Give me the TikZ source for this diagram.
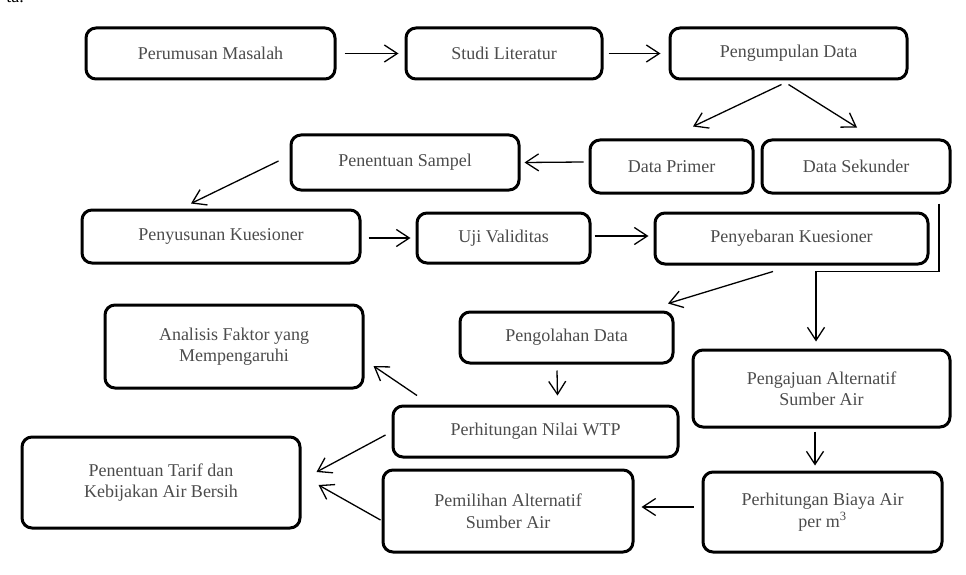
\documentclass[tikz,border=0pt]{standalone}
\usepackage{fontspec}
\setmainfont{Liberation Serif}
\usetikzlibrary{arrows.meta,calc}
\begin{document}
\begin{tikzpicture}[x=1pt,y=-1pt,
 box/.style={draw=black, line width=3pt, rounded corners=10pt, align=center, text=black!70, font=\fontsize{18}{21.5}\selectfont, inner sep=2pt},
 arr/.style={line width=1.3pt, -{Straight Barb[length=13pt,width=17pt,line width=1.3pt]}},
 frag/.style={font=\fontsize{18}{21.5}\selectfont, inner sep=0pt}]
\useasboundingbox (0,0) rectangle (966,575);
\fill[white] (0,0) rectangle (966,575);
\node[frag, anchor=base east] (fr) at (24,2.5) {ta.};
% nodes
\node[box, minimum width=249pt, minimum height=51pt] (pm) at (210.5,53.5) {Perumusan Masalah};
\node[box, minimum width=196pt, minimum height=51pt] (sl) at (504,53.5) {Studi Literatur};
\node[box, minimum width=237pt, minimum height=51pt] (pd) at (788.5,53.5) {Pengumpulan Data};
\node[box, minimum width=228pt, minimum height=55pt] (ps) at (405,162.5) {Penentuan Sampel};
\node[box, minimum width=163pt, minimum height=53pt] (dp) at (671.5,166.5) {Data Primer};
\node[box, minimum width=188pt, minimum height=53pt] (ds) at (856,166.5) {Data Sekunder};
\node[box, minimum width=278pt, minimum height=53pt] (pk) at (221,236.5) {Penyusunan Kuesioner};
\node[box, minimum width=173pt, minimum height=50pt] (uv) at (503.5,238) {Uji Validitas};
\node[box, minimum width=273pt, minimum height=51pt] (pb) at (791.5,238.5) {Penyebaran Kuesioner};
\node[box, minimum width=213pt, minimum height=51pt] (po) at (566.5,337.5) {Pengolahan Data};
\node[box, minimum width=258pt, minimum height=83pt] (af) at (234,346.5) {Analisis Faktor yang\\Mempengaruhi};
\node[box, minimum width=257pt, minimum height=77pt] (pa) at (821.5,388.5) {Pengajuan Alternatif\\Sumber Air};
\node[box, minimum width=285pt, minimum height=51pt] (wtp) at (535.5,431.5) {Perhitungan Nilai WTP};
\node[box, minimum width=278pt, minimum height=91pt] (tr) at (161,482.5) {Penentuan Tarif dan\\Kebijakan Air Bersih};
\node[box, minimum width=250pt, minimum height=82pt] (pl) at (508,511) {Pemilihan Alternatif\\Sumber Air};
\node[box, minimum width=239pt, minimum height=80pt] (bb) at (822.5,512) {Perhitungan Biaya Air\\per m\textsuperscript{3}};
% connectors
\draw[arr] ($(pm.east)+(8,0)$) -- ($(sl.west)+(-6,0)$);
\draw[arr] ($(sl.east)+(5,0)$) -- ($(pd.west)+(-8,0)$);
\draw[arr] ($(pd.south)+(-7,4)$) -- ($(dp.north)+(21.5,-12)$);
\draw[arr] ($(pd.south)+(0,4)$) -- ($(ds.north)+(1,-11)$);
\draw[arr] ($(dp.west)+(-5,-4.5)$) -- ($(ps.east)+(4,0)$);
\draw[arr] ($(ps.west)+(-11,-1.5)$) -- ($(pk.north)+(-30,-5)$);
\draw[arr] ($(pk.east)+(7,1.5)$) -- ($(uv.west)+(-5,0)$);
\draw[arr] ($(uv.east)+(3,-2)$) -- ($(pb.west)+(-5,-2.5)$);
\draw[arr] ($(ds.south)+(83,9)$) |- ($(pa.north)+(-5.5,-77)$) -- ($(pa.north)+(-5.5,-7)$);
\draw[arr] ($(pb.south)+(-18.5,6)$) -- ($(po.north)+(101.5,-7)$);
\draw[arr] ($(po.south)+(-9.5,6)$) -- ($(wtp.north)+(22,-9)$);
\draw[arr] ($(wtp.north)+(-118.5,-9)$) -- ($(af.east)+(9,19.5)$);
\draw[arr] ($(wtp.west)+(-6,3.5)$) -- ($(tr.east)+(15,-10.5)$);
\draw[arr] ($(pl.west)+(-1,9)$) -- ($(tr.east)+(17,2.5)$);
\draw[arr] ($(pa.south)+(-6.5,3)$) -- ($(bb.north)+(-7.5,-5)$);
\draw[arr] ($(bb.west)+(-8,-5)$) -- ($(pl.east)+(7,-4)$);
\end{tikzpicture}
\end{document}
